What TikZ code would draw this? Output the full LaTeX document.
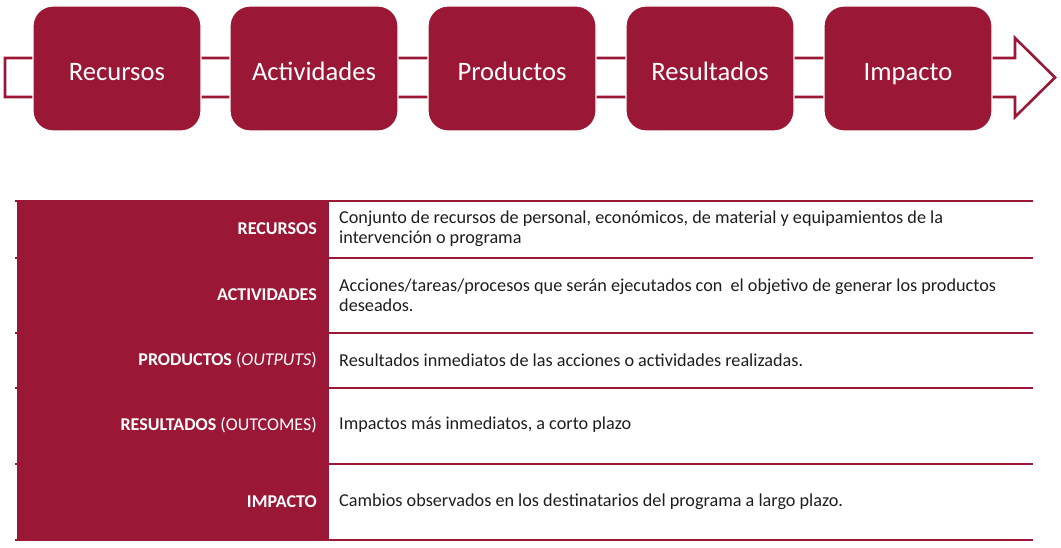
\documentclass[tikz,border=0pt]{standalone}
\usepackage{fontspec}
\setmainfont{Carlito}
\definecolor{crim}{HTML}{9B1736}
\definecolor{bodytxt}{HTML}{1E1E1E}
\begin{document}
\begin{tikzpicture}[x=1pt,y=-1pt,
  stagebox/.style={fill=crim,draw=white,line width=1.2pt,rounded corners=20pt,
    minimum width=168pt,minimum height=125pt,text=white,
    text height=30pt,text depth=5pt,
    font=\fontsize{26.6}{30}\selectfont,inner sep=0pt},
  rowlabel/.style={anchor=east,text=white,font=\fontsize{18}{20}\selectfont,inner sep=0pt},
  rowtext/.style={anchor=west,text=bodytxt,align=left,font=\fontsize{18.2}{20}\selectfont,inner sep=0pt},
  sepline/.style={draw=crim,line width=1.2pt},
  thickline/.style={draw=crim,line width=2.6pt}]
\useasboundingbox (0,0) rectangle (1061,548);
% flow arrow outline
\draw[crim,line width=2.6pt,fill=white,line join=miter]
  (5,58) -- (1015,58) -- (1015,38) -- (1055,77.5) -- (1015,117) -- (1015,97) -- (5,97) -- cycle;
% stage boxes
\node[stagebox] (b1) at (117,68.5) {Recursos};
\node[stagebox] (b2) at (314,68.5) {Actividades};
\node[stagebox] (b3) at (512,68.5) {Productos};
\node[stagebox] (b4) at (710,68.5) {Resultados};
\node[stagebox] (b5) at (908,68.5) {Impacto};
% table
\foreach \yy in {258,333,388,464} \draw[sepline] (15,\yy) -- (1033,\yy);
\fill[crim] (17,201) rectangle (329,540);
\draw[thickline] (15,201) -- (1033,201);
\draw[thickline] (15,540) -- (1033,540);
\node[rowlabel] (l1) at (317,229) {\textbf{RECURSOS}};
\node[rowlabel] (l2) at (317,295) {\textbf{ACTIVIDADES}};
\node[rowlabel] (l3) at (317,360) {\textbf{PRODUCTOS} (\textit{OUTPUTS})};
\node[rowlabel] (l4) at (317,425) {\textbf{RESULTADOS} (OUTCOMES)};
\node[rowlabel] (l5) at (317,502) {\textbf{IMPACTO}};
\node[rowtext] (t1) at (339,229) {Conjunto de recursos de personal, económicos, de material y equipamientos de la\\intervención o programa};
\node[rowtext] (t2) at (339,295) {Acciones/tareas/procesos que serán ejecutados con\ \ el objetivo de generar los productos\\deseados.};
\node[rowtext] (t3) at (339,360) {Resultados inmediatos de las acciones o actividades realizadas.};
\node[rowtext] (t4) at (339,425) {Impactos más inmediatos, a corto plazo};
\node[rowtext] (t5) at (339,502) {Cambios observados en los destinatarios del programa a largo plazo.};
\end{tikzpicture}
\end{document}
